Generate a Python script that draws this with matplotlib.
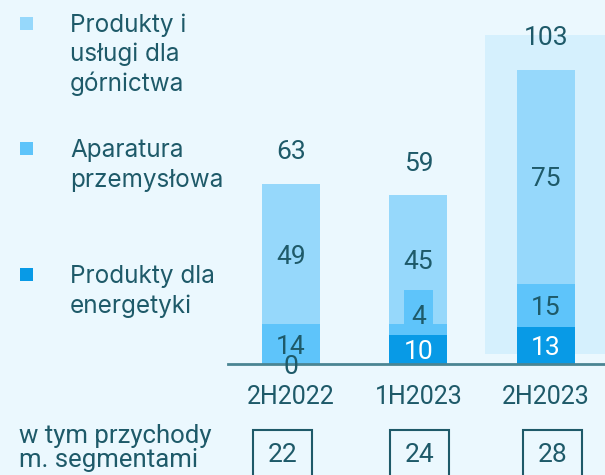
import matplotlib
matplotlib.use("Agg")
import matplotlib.pyplot as plt
from matplotlib.patches import Rectangle
import numpy as np

# ── Data ─────────────────────────────────────────────────────────────────────
periods    = ["2H2022", "1H2023", "2H2023"]
energetyka = [0, 10, 13]      # Produkty dla energetyki
aparatura  = [14, 4, 15]      # Aparatura przemysłowa
gornictwo  = [49, 45, 75]     # Produkty i usługi dla górnictwa
totals     = [63, 59, 103]
w_tym      = [22, 24, 28]     # w tym przychody m. segmentami

legend_labels = [
    ["Produkty i", "usługi dla", "górnictwa"],
    ["Aparatura", "przemysłowa"],
    ["Produkty dla", "energetyki"],
]
table_label = ["w tym przychody", "m. segmentami"]

# ── Style ────────────────────────────────────────────────────────────────────
BG    = "#EBF8FE"
HL    = "#D5F0FD"
C_GOR = "#96D8FB"
C_APA = "#5EC4FA"
C_ENE = "#089AE6"
TXT   = "#1E5A69"
LINE  = "#4A8593"

plt.rcParams["font.family"] = ["Roboto", "DejaVu Sans"]
LEG_FONT = ["Inter", "DejaVu Sans"]
NUM_FS = 19

W, H = 605, 475
fig = plt.figure(figsize=(W / 100, H / 100), dpi=100, facecolor=BG)

def fx(px):
    return px / W

def fy(px):
    return 1 - px / H

# plotting area: baseline at y=364px, bars spaced ~127.5px
ax = fig.add_axes([fx(228), fy(364), fx(W - 228), 364 / H])
ax.set_facecolor("none")
ax.set_xlim(-0.494, 2.463)
ax.set_ylim(0, 127.4)
ax.axis("off")

x = np.arange(len(periods))
ene = np.array(energetyka)
apa = np.array(aparatura)
gor = np.array(gornictwo)
BW = 0.455

# highlight behind latest period
ax.add_patch(Rectangle((x[-1] - 0.48, 3.5), 0.96, 111.5, facecolor=HL,
                       edgecolor="none", zorder=0, clip_on=False))

ax.bar(x, ene, width=BW, color=C_ENE, zorder=2)
ax.bar(x, apa, bottom=ene, width=BW, color=C_APA, zorder=2)
ax.bar(x, gor, bottom=ene + apa, width=BW, color=C_GOR, zorder=2)
ax.axhline(0, color=LINE, linewidth=2, zorder=3, clip_on=False)

# ── Segment labels ───────────────────────────────────────────────────────────
for i in x:
    # energetyka
    c = "white" if ene[i] > 0 else TXT
    ax.text(i, ene[i] / 2, str(ene[i]), ha="center", va="center_baseline",
            color=c, fontsize=NUM_FS, zorder=5)
    # aparatura
    top = ene[i] + apa[i]
    if apa[i] < 6:
        ax.bar(i, 12, bottom=top, width=0.227, color=C_APA, zorder=3)
        ax.annotate(str(apa[i]), xy=(i, top), xytext=(0, 6.5),
                    textcoords="offset points", ha="center",
                    va="center_baseline", color=TXT, fontsize=NUM_FS, zorder=5)
    else:
        ax.text(i, ene[i] + apa[i] / 2, str(apa[i]), ha="center",
                va="center_baseline", color=TXT, fontsize=NUM_FS, zorder=5)
    # górnictwo
    ax.text(i, top + gor[i] / 2, str(gor[i]), ha="center",
            va="center_baseline", color=TXT, fontsize=NUM_FS, zorder=5)
    # total
    ax.annotate(str(totals[i]), xy=(i, totals[i]), xytext=(0, 24.5),
                textcoords="offset points", ha="center", va="center_baseline",
                color=TXT, fontsize=NUM_FS, zorder=5)
    # period
    ax.annotate(periods[i], xy=(i, 0), xytext=(0, -21.6),
                textcoords="offset points", ha="center", va="center_baseline",
                color=TXT, fontsize=18, zorder=5)

# ── Legend (left column) ─────────────────────────────────────────────────────
leg_colors = [C_GOR, C_APA, C_ENE]
leg_base = [32, 157, 283]
for lines, col, b in zip(legend_labels, leg_colors, leg_base):
    fig.add_artist(Rectangle((fx(20), fy(b - 2)), fx(13), 13 / H,
                             transform=fig.transFigure, facecolor=col,
                             edgecolor="none"))
    for k, line in enumerate(lines):
        fig.text(fx(70), fy(b + 29.5 * k), line, ha="left", va="baseline",
                 color=TXT, fontsize=17.5, family=LEG_FONT)

# ── "w tym" row ──────────────────────────────────────────────────────────────
for k, line in enumerate(table_label):
    fig.text(fx(19), fy(443 + 24 * k), line, ha="left", va="baseline",
             color=TXT, fontsize=18.5)

box_left = [253, 390, 523]
for v, bl in zip(w_tym, box_left):
    fig.add_artist(Rectangle((fx(bl), fy(480)), fx(59), 50 / H,
                             transform=fig.transFigure, facecolor="none",
                             edgecolor=TXT, linewidth=1.5))
    fig.text(fx(bl + 29.5), fy(452.5), str(v), ha="center",
             va="center_baseline", color=TXT, fontsize=NUM_FS)

fig.savefig("out.png", dpi=100, facecolor=BG)
